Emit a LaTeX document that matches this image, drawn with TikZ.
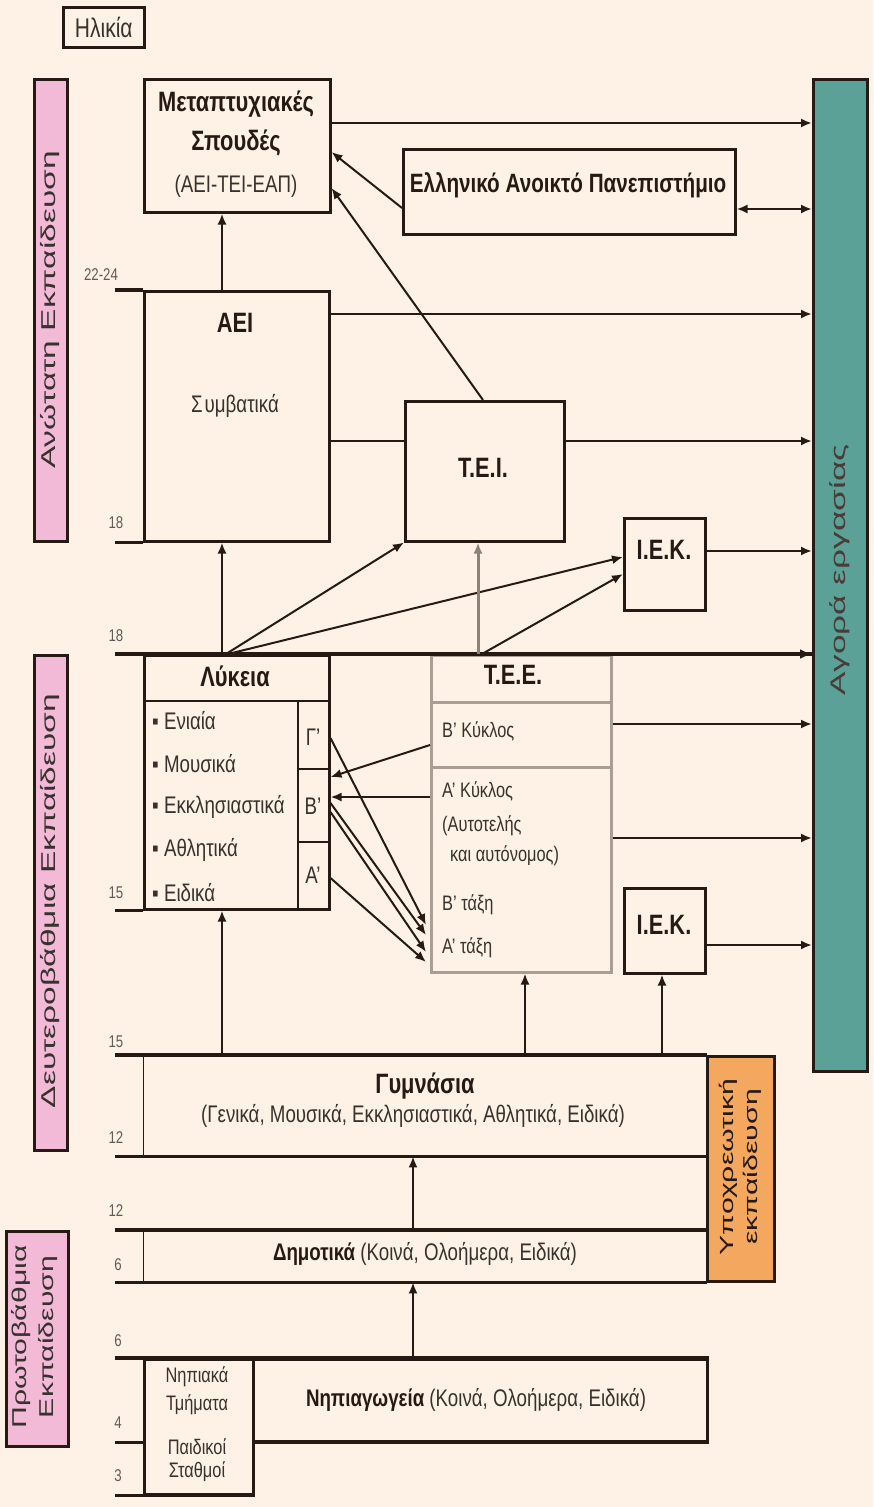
\documentclass[tikz,border=0pt]{standalone}
\usepackage{fontspec}
\setmainfont[FakeStretch=0.78]{Liberation Sans}
\usetikzlibrary{arrows.meta,calc}
\definecolor{bgc}{RGB}{253,242,229}
\definecolor{ink}{RGB}{38,26,20}
\definecolor{txtc}{RGB}{55,50,45}
\definecolor{pinkc}{RGB}{243,186,216}
\definecolor{tealc}{RGB}{92,161,152}
\definecolor{orangec}{RGB}{244,168,95}
\definecolor{grayc}{RGB}{168,158,148}
\definecolor{grayd}{RGB}{140,130,120}
\newcommand{\fsT}{\fontsize{28}{32}\selectfont\bfseries}
\newcommand{\fsN}{\fontsize{24}{28}\selectfont}
\newcommand{\fsS}{\fontsize{21}{25}\selectfont}
\newcommand{\fsA}{\fontsize{17}{20}\selectfont}
\newcommand{\fsR}{\fontsize{20}{24}\selectfont}
\begin{document}
\begin{tikzpicture}[x=1pt,y=-1pt,
  box/.style={draw=ink, line width=2.5pt, inner sep=0pt, anchor=north west},
  thinbox/.style={draw=ink, line width=1.4pt, inner sep=0pt, anchor=north west},
  agel/.style={ink, line width=3.5pt},
  sep/.style={ink, line width=2.5pt},
  arr/.style={ink, line width=2pt, -{Latex[length=11pt,width=9pt]}},
  garr/.style={grayd, line width=3pt, -{Latex[length=11pt,width=9pt]}},
  darr/.style={ink, line width=2.5pt, {Latex[length=11pt,width=9pt]}-{Latex[length=11pt,width=9pt]}},
  tit/.style={font=\fsT, text=ink, inner sep=0pt},
  txt/.style={font=\fsN, text=txtc, inner sep=0pt},
  sml/.style={font=\fsS, text=txtc, inner sep=0pt},
  rot/.style={font=\fsR, text=txtc, inner sep=0pt, rotate=90, xscale=2.15},
  age/.style={font=\fsA, text=txtc!80, inner sep=0pt}]
\useasboundingbox (0,0) rectangle (873,1507);
\fill[bgc] (0,0) rectangle (873,1507);

% side bands
\node[box, fill=pinkc, minimum width=33pt, minimum height=462pt] (pink1) at (33,78) {};
\node[box, fill=pinkc, minimum width=33pt, minimum height=495pt] (pink2) at (33,654) {};
\node[box, fill=pinkc, minimum width=62pt, minimum height=215pt] (pink3) at (5,1230) {};
\node[rot] at (50,310) {Ανώτατη Εκπαίδευση};
\node[rot] at (50,901) {Δευτεροβάθμια Εκπαίδευση};
\node[rot, align=center, xscale=0.9, font=\fontsize{20}{27}\selectfont] at (35,1337) {Πρωτοβάθμια\\Εκπαίδευση};
\node[box, minimum width=81pt, minimum height=40pt] (age) at (62,6) {};
\node[txt, font=\fontsize{27}{30}\selectfont] at (age.center) {Ηλικία};

\node[box, fill=tealc, minimum width=54pt, minimum height=992pt] (teal) at (812,78) {};
\node[rot, text=ink!85, font=\fontsize{21}{25}\selectfont] at (840,570) {Αγορά εργασίας};
\node[box, fill=orangec, minimum width=67pt, minimum height=225pt] (orng) at (706,1055) {};
\node[rot, text=ink, align=center, xscale=0.95, font=\fontsize{19}{24}\selectfont] at (740,1167) {Υποχρεωτική\\εκπαίδευση};

% main boxes
\node[box, minimum width=186pt, minimum height=133pt] (meta) at (143,78) {};
\node[tit] at (236,104) {Μεταπτυχιακές};
\node[tit] at (236,143) {Σπουδές};
\node[txt] at (236,186) {(ΑΕΙ-ΤΕΙ-ΕΑΠ)};

\node[box, minimum width=332pt, minimum height=85pt] (eap) at (402,148) {};
\node[tit, font=\fontsize{26.5}{30}\selectfont\bfseries] at (568,185) {Ελληνικό Ανοικτό Πανεπιστήμιο};

\node[box, minimum width=185pt, minimum height=250pt] (aei) at (143,290) {};
\node[tit] at (235,323) {ΑΕΙ};
\node[txt] at (235,406) {Σ\hspace{2pt}υμβατικά};

\node[box, minimum width=159pt, minimum height=140pt] (tei) at (404,400) {};
\node[tit] at (483,468) {Τ.Ε.Ι.};

\node[box, minimum width=81pt, minimum height=92pt] (iek1) at (623,517) {};
\node[tit] at (664,550) {Ι.Ε.Κ.};

\node[box, minimum width=185pt, minimum height=254pt] (lyk) at (143,654) {};
\draw[sep] (143,701) -- (328,701);
\draw[sep] (298,701) -- (298,908);
\draw[sep] (298,769) -- (328,769);
\draw[sep] (298,842) -- (328,842);
\node[tit] at (235,676) {Λύκεια};
\node[txt, anchor=west] at (152,721) {▪ Ενιαία};
\node[txt, anchor=west] at (152,764) {▪ Μουσικά};
\node[txt, anchor=west] at (152,807) {▪ Εκκλησιαστικά};
\node[txt, anchor=west] at (152,850) {▪ Αθλητικά};
\node[txt, anchor=west] at (152,893) {▪ Ειδικά};
\node[txt] at (313,737) {Γ'};
\node[txt] at (313,806) {Β'};
\node[txt] at (313,875) {Α'};

\node[box, draw=grayc, minimum width=180pt, minimum height=317pt] (tee) at (430,654) {};
\draw[grayc, line width=3pt] (430,702) -- (610,702);
\draw[grayc, line width=3pt] (430,767) -- (610,767);
\node[tit] at (513,675) {Τ.Ε.Ε.};
\node[sml, anchor=west] at (442,731) {Β' Κύκλος};
\node[sml, anchor=west] at (442,791) {Α' Κύκλος};
\node[sml, anchor=west] at (442,826) {(Αυτοτελής};
\node[sml, anchor=west] at (450,856) {και αυτόνομος)};
\node[sml, anchor=west] at (442,905) {Β' τάξη};
\node[sml, anchor=west] at (442,948) {Α' τάξη};

\node[box, minimum width=81pt, minimum height=85pt] (iek2) at (623,887) {};
\node[tit] at (664,925) {Ι.Ε.Κ.};

\node[thinbox, minimum width=563pt, minimum height=100pt] (gym) at (143,1055) {};
\node[tit] at (425,1086) {Γυμνάσια};
\node[txt] at (413,1116) {(Γενικά, Μουσικά, Εκκλησιαστικά, Αθλητικά, Ειδικά)};

\node[thinbox, minimum width=563pt, minimum height=51pt] (dim) at (143,1230) {};
\node[txt] at (425,1254) {\textbf{\color{ink}Δημοτικά} (Κοινά, Ολοήμερα, Ειδικά)};

\node[box, minimum width=454pt, minimum height=82pt] (nip) at (252,1358) {};
\node[txt] at (476,1400) {\textbf{\color{ink}Νηπιαγωγεία} (Κοινά, Ολοήμερα, Ειδικά)};
\node[box, minimum width=109pt, minimum height=135pt] (small) at (143,1358) {};
\node[sml] at (197,1377) {Νηπιακά};
\node[sml] at (197,1405) {Τμήματα};
\node[sml] at (197,1447) {Παιδικοί};
\node[sml] at (197,1472) {Σταθμοί};

% age lines and labels
\node[age] at (101,275) {22-24};
\node[age] at (116,523) {18};
\node[age] at (116,636) {18};
\node[age] at (116,893) {15};
\node[age] at (116,1042) {15};
\node[age] at (116,1138) {12};
\node[age] at (116,1211) {12};
\node[age] at (118,1265) {6};
\node[age] at (118,1341) {6};
\node[age] at (118,1423) {4};
\node[age] at (118,1476) {3};
\coordinate (L) at (115,0);
\draw[agel] (L |- aei.north) -- (aei.north west);
\draw[agel] (L |- aei.south) -- (aei.south west);
\draw[agel] (lyk.south west -| L) -- (lyk.south west);
\draw[agel] (gym.north west -| L) -- (gym.north east);
\draw[agel] (gym.south west -| L) -- (gym.south east);
\draw[agel] (dim.north west -| L) -- (dim.north east);
\draw[agel] (dim.south west -| L) -- (dim.south east);
\draw[agel] (small.north west -| L) -- (nip.north east);
\draw[agel] (nip.south west -| L) -- (small.west |- nip.south);
\draw[agel] (small.south west -| L) -- (small.south east);
\draw[agel] (nip.south west) -- (nip.south east);
\draw[agel] (lyk.north west -| L) -- (teal.west |- lyk.north);
\draw[ink, line width=2.5pt, -{Latex[length=12pt,width=10pt]}] (tee.north east) -- (teal.west |- lyk.north);

% arrows to labour market
\draw[arr, line width=2.5pt] (meta.east |- 0,123) -- (teal.west |- 0,123);
\draw[darr] (eap.east |- 0,209) -- (teal.west |- 0,209);
\draw[arr, line width=2.5pt] (aei.east |- 0,314) -- (teal.west |- 0,314);
\draw[ink, line width=2.5pt] (aei.east |- 0,441) -- (tei.west |- 0,441);
\draw[arr, line width=2.5pt] (tei.east |- 0,441) -- (teal.west |- 0,441);
\draw[arr, line width=2.5pt] (iek1.east |- 0,551) -- (teal.west |- 0,551);
\draw[arr, line width=2.5pt] (tee.east |- 0,724) -- (teal.west |- 0,724);
\draw[arr, line width=2.5pt] (tee.east |- 0,838) -- (teal.west |- 0,838);
\draw[arr, line width=2.5pt] (iek2.east |- 0,945) -- (teal.west |- 0,945);

% upward flows
\draw[arr, line width=2.5pt] (aei.north -| 222,0) -- (meta.south -| 222,0);
\draw[arr] (eap.west |- 0,208) -- (meta.east |- 0,152);
\draw[arr] (tei.north -| 483,0) -- (meta.east |- 0,188);
\draw[arr, line width=2.5pt] (lyk.north -| 222,0) -- (aei.south -| 222,0);
\draw[arr] (lyk.north -| 226,0) -- (tei.south west);
\draw[arr] (lyk.north -| 228,0) -- (iek1.west |- 0,557);
\draw[garr] (tee.north -| 478,0) -- (tei.south -| 478,0);
\draw[arr] (tee.north -| 482,0) -- (iek1.west |- 0,574);
\draw[arr, line width=2.5pt] (gym.north -| 222,0) -- (lyk.south -| 222,0);
\draw[arr] (gym.north -| 525,0) -- (tee.south -| 525,0);
\draw[arr] (gym.north -| 662,0) -- (iek2.south -| 662,0);
\draw[arr] (dim.north -| 413,0) -- (gym.south -| 413,0);
\draw[arr] (nip.north -| 413,0) -- (dim.south -| 413,0);

% Lykeia <-> TEE
\draw[arr] (tee.west |- 0,745) -- (lyk.east |- 0,777);
\draw[arr, line width=2.5pt] (tee.west |- 0,797) -- (lyk.east |- 0,797);
\draw[arr] (lyk.east |- 0,738) -- ([xshift=-4pt]tee.west |- 0,925);
\draw[arr] (lyk.east |- 0,803) -- ([xshift=-4pt]tee.west |- 0,935);
\draw[arr] (lyk.east |- 0,812) -- ([xshift=-4pt]tee.west |- 0,952);
\draw[arr] (lyk.east |- 0,878) -- ([xshift=-4pt]tee.west |- 0,962);
\end{tikzpicture}
\end{document}
